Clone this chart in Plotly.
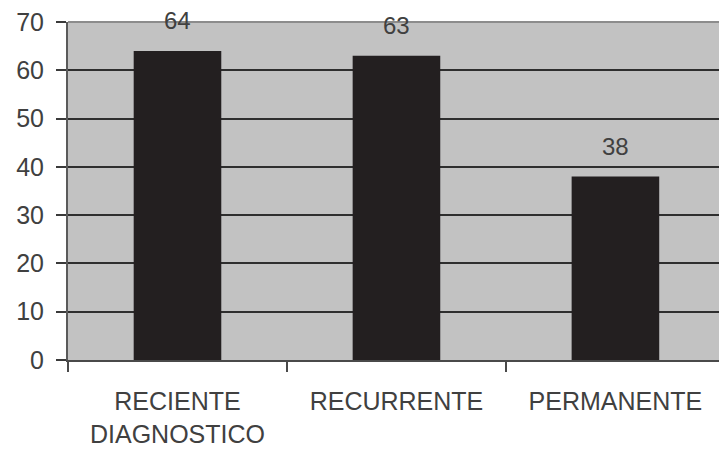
import plotly.graph_objects as go

categories = ["RECIENTE<br>DIAGNOSTICO", "RECURRENTE", "PERMANENTE"]
values = [64, 63, 38]
y_ticks = [0, 10, 20, 30, 40, 50, 60, 70]

TEXT = "#404040"
FONT = "Liberation Sans, Arial, sans-serif"

fig = go.Figure()
fig.add_trace(go.Bar(
    x=categories, y=values, width=0.4,
    marker=dict(color="#231f20", line=dict(width=0)),
    hoverinfo="skip",
))

for c, v in zip(categories, values):
    fig.add_annotation(x=c, y=v, text=str(v), showarrow=False,
                       yanchor="middle", yshift=30,
                       font=dict(size=24, color=TEXT, family=FONT))

fig.add_shape(type="line", xref="paper", yref="y domain", x0=0, x1=1, y0=1, y1=1,
              line=dict(color="#8c8c8c", width=2), layer="above")

fig.update_layout(
    width=719, height=452,
    margin=dict(l=68, r=0, t=22, b=92),
    paper_bgcolor="white", plot_bgcolor="#c2c2c2",
    showlegend=False,
    font=dict(family=FONT, size=25, color=TEXT),
    bargap=0.6,
)
fig.update_xaxes(
    range=[-0.5, 2.473], showgrid=False,
    showline=True, linecolor="#4a4a4a", linewidth=2,
    ticks="outside", tickson="boundaries", ticklen=10, tickwidth=2, tickcolor="#4a4a4a",
    ticklabelstandoff=18,
    tickfont=dict(size=25, color=TEXT),
)
fig.update_yaxes(
    range=[0, 70], tickvals=y_ticks,
    showgrid=True, gridcolor="#2e2e2e", gridwidth=1.6,
    showline=True, linecolor="#5a5a5a", linewidth=2,
    ticks="outside", ticklen=10, tickwidth=2, tickcolor="#3a3a3a",
    ticklabelstandoff=7,
    tickfont=dict(size=25, color=TEXT),
    zeroline=False,
)

fig.write_html("out.html")
